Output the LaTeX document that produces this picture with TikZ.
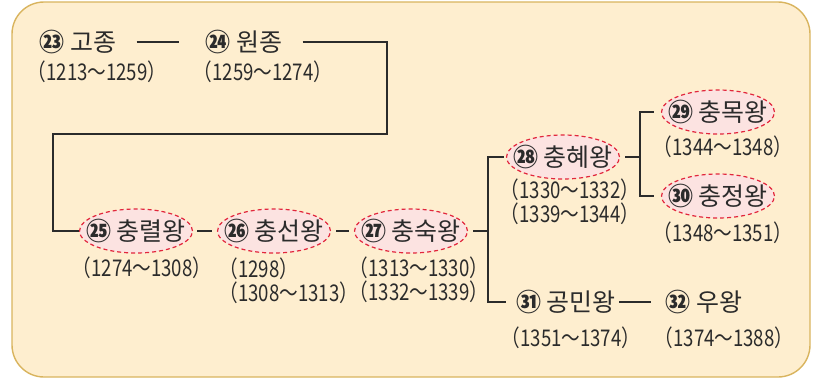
\documentclass[tikz,border=0pt]{standalone}
\usepackage{fontspec}
\setmainfont{Noto Sans CJK KR}
\newfontfamily\yearfont[FakeStretch=0.81]{Noto Sans CJK KR}
\usetikzlibrary{shapes.geometric}

\definecolor{bgcream}{HTML}{FEEECF}
\definecolor{bgedge}{HTML}{D9B45E}
\definecolor{kingfill}{HTML}{FCE3E1}
\definecolor{kingedge}{HTML}{E2263C}
\definecolor{ink}{HTML}{2B2B2B}

\newcommand{\num}[1]{{\bfseries #1}}

\begin{document}
\begin{tikzpicture}[x=0.5pt, y=-0.5pt,
  ruler/.style={inner sep=0pt, text=ink, font=\fontsize{12.5}{14}\selectfont},
  king/.style={ruler, ellipse, draw=kingedge, fill=kingfill, line width=0.6pt,
    dash pattern=on 2pt off 1.5pt, inner xsep=-12pt, inner ysep=-4pt,
    minimum width=56.5pt, minimum height=22pt},
  years/.style={inner sep=0pt, text=ink, align=left, font=\yearfont\fontsize{11.5}{12}\selectfont},
  link/.style={draw=ink, line width=0.7pt}]
  \useasboundingbox (0,0) rectangle (815,380);
  \draw[bgedge, fill=bgcream, line width=0.7pt, rounded corners=16pt] (12,2) rectangle (810,377);

  % first row
  \node[ruler] (gojong) at (78,42) {\num{㉓} 고종};
  \node[years] (gojong-y) at (97,72) {（1213～1259）};
  \node[ruler] (wonjong) at (244,42) {\num{㉔} 원종};
  \node[years] (wonjong-y) at (263,72) {（1259～1274）};

  % second row
  \node[king] (chungnyeol) at (136,231) {\num{㉕} 충렬왕};
  \node[years] (chungnyeol-y) at (142,268) {（1274～1308）};
  \node[king] (chungseon) at (274,231) {\num{㉖} 충선왕};
  \node[years, anchor=north west] (chungseon-y) at (219,257) {（1298）\\（1308～1313）};
  \node[king] (chungsuk) at (411,231) {\num{㉗} 충숙왕};
  \node[years] (chungsuk-y) at (419,280) {（1313～1330）\\（1332～1339）};

  % branches
  \node[king] (chunghye) at (563,157) {\num{㉘} 충혜왕};
  \node[years] (chunghye-y) at (570,202) {（1330～1332）\\（1339～1344）};
  \node[king] (chungmok) at (718,112) {\num{㉙} 충목왕};
  \node[years] (chungmok-y) at (723,147) {（1344～1348）};
  \node[king] (chungjeong) at (718,196) {\num{㉚} 충정왕};
  \node[years] (chungjeong-y) at (723,233) {（1348～1351）};
  \node[ruler] (gongmin) at (566,302) {\num{㉛} 공민왕};
  \node[years] (gongmin-y) at (571,338) {（1351～1374）};
  \node[ruler] (uwang) at (704,302) {\num{㉜} 우왕};
  \node[years] (uwang-y) at (724,338) {（1374～1388）};

  \coordinate (bendR) at (387,134);
  \coordinate (bendL) at (53,134);
  \coordinate (forkA) at (488,231);
  \coordinate (forkB) at (640,157);

  \draw[link] ([xshift=10pt]gojong.east) -- ([xshift=-13pt]wonjong.west);
  \draw[link] ([xshift=10pt]wonjong.east) -- (wonjong.east -| bendR) -- (bendR)
    -- (bendL) -- (bendL |- chungnyeol) -- (chungnyeol.west);
  \draw[link] ([xshift=2pt]chungnyeol.east) -- ([xshift=-2.5pt]chungseon.west);
  \draw[link] ([xshift=2.5pt]chungseon.east) -- ([xshift=-2.5pt]chungsuk.west);
  \draw[link] ([xshift=2.5pt]chungsuk.east) -- (forkA);
  \draw[link] ([xshift=-1pt]chunghye.west) -| (forkA) |- ([xshift=-5pt]gongmin.west);
  \draw[link] ([xshift=2.5pt]chunghye.east) -- (forkB);
  \draw[link] ([xshift=-3.5pt]chungmok.west) -| (forkB) |- ([xshift=-3.5pt]chungjeong.west);
  \draw[link] ([xshift=1.5pt]gongmin.east) -- ([xshift=-7pt]uwang.west);
\end{tikzpicture}
\end{document}
